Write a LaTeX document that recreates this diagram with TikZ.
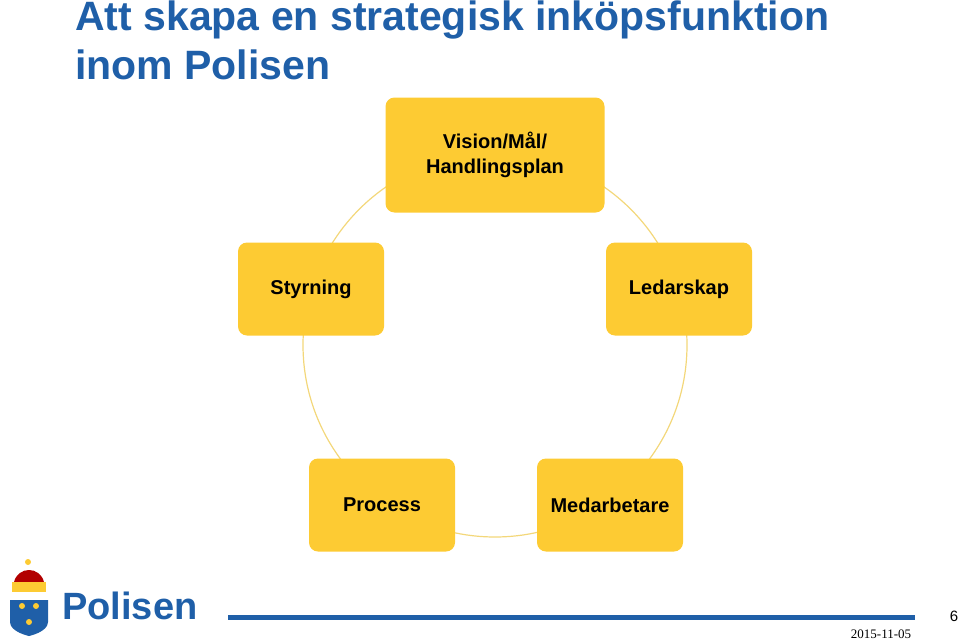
\documentclass[tikz,border=0pt]{standalone}
\usepackage{fontspec}
\setmainfont{Liberation Sans}
\newfontfamily\datefont{Liberation Serif}
\definecolor{polblue}{HTML}{1F5FA8}
\definecolor{boxyellow}{HTML}{FDCB33}
\definecolor{ringyellow}{HTML}{F3D77A}
\begin{document}
\begin{tikzpicture}[x=1pt,y=-1pt,
	topic/.style={rectangle, rounded corners=9pt, fill=boxyellow, minimum width=146pt, minimum height=93pt, align=center, font=\fontsize{20}{25}\selectfont\bfseries},
	ring/.style={draw=ringyellow, line width=1.2pt}]
	\useasboundingbox (0,0) rectangle (960,642);
	% title
	\node[anchor=base west, align=left, text=polblue, font=\fontsize{41}{48}\selectfont\bfseries, inner sep=0pt] (title) at (75,79) {Att skapa en strategisk ink\"opsfunktion\\inom Polisen};
	% ring behind the boxes
	\draw[ring] (495,345) circle (192);
	% the five boxes
	\node[topic, minimum width=219pt, minimum height=115pt] (vision) at (495,155) {Vision/M\aa l/\\Handlingsplan};
	\node[topic] (styrning) at (311,289) {Styrning};
	\node[topic] (ledarskap) at (679,289) {Ledarskap};
	\node[topic] (process) at (382,505) {Process};
	\node[topic] (medarb) at (610,505) {Medarbetare};
	% footer
	\fill[polblue] (10,600) -- (48,600) -- (48,622) .. controls (48,632) and (29,636) .. (29,636) .. controls (29,636) and (10,632) .. (10,622) -- cycle;
	\fill[red!70!black] (14,582) .. controls (18,566) and (40,566) .. (44,582) -- cycle;
	\fill[boxyellow] (12,582) rectangle (46,592);
	\fill[boxyellow] (28,562) circle (3);
	\fill[boxyellow] (22,606) circle (3) (36,606) circle (3) (29,622) circle (3);
	\node[anchor=west, text=polblue, font=\fontsize{38}{38}\selectfont\bfseries, inner sep=0pt] (logo) at (62,606) {Polisen};
	\fill[polblue] (228,614.5) rectangle (915,620);
	\node[font=\fontsize{15}{15}\selectfont] (page) at (954,616) {6};
	\node[font=\datefont\fontsize{13}{13}\selectfont] (date) at (881,634) {2015-11-05};
\end{tikzpicture}
\end{document}
